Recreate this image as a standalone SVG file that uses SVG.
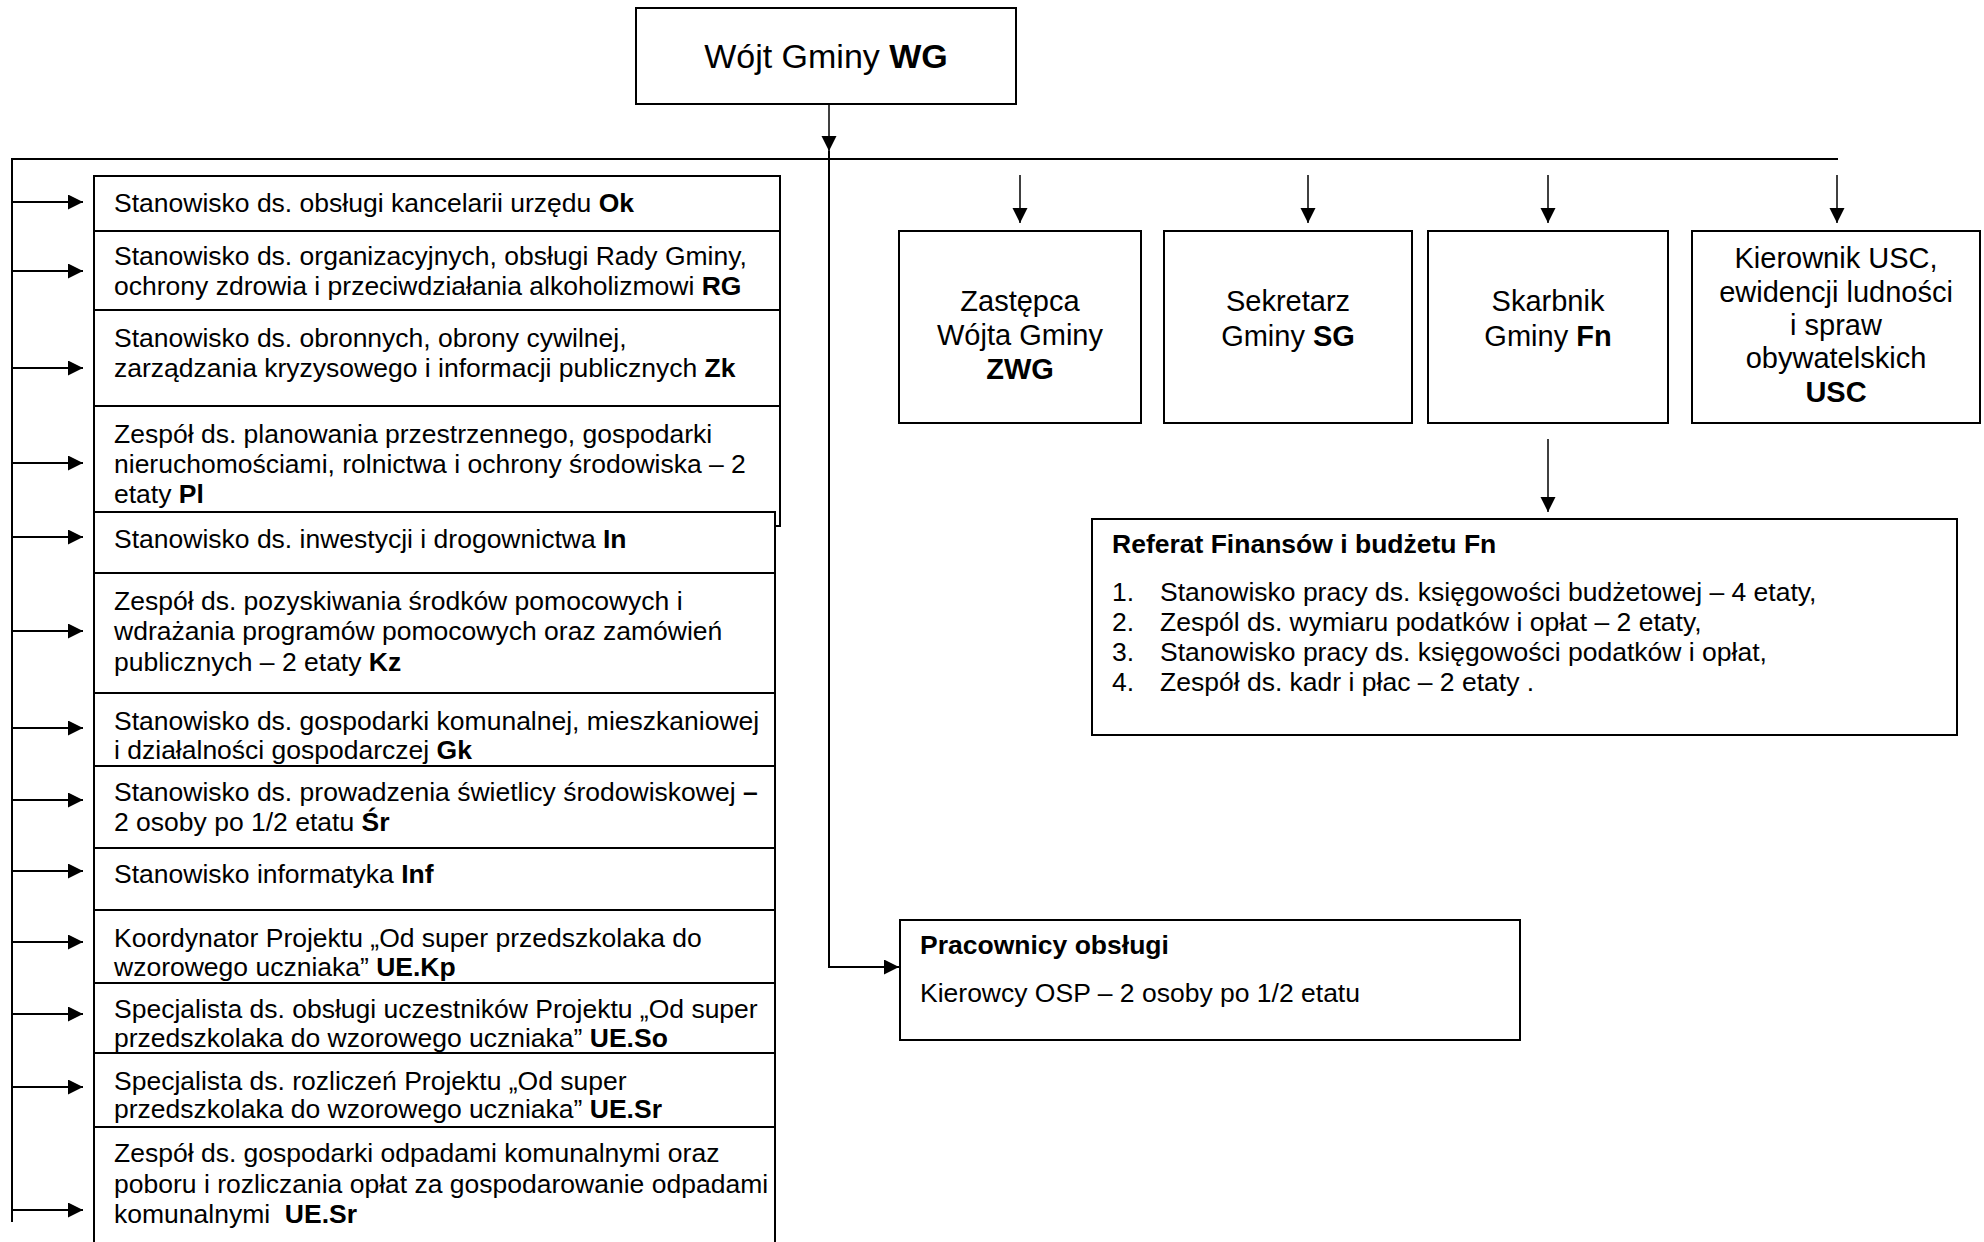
<svg xmlns="http://www.w3.org/2000/svg" width="1984" height="1242" viewBox="0 0 1984 1242">
<style>
text { font-family: "Liberation Sans", Arial, sans-serif; fill: #000; }
.t { font-size: 26.5px; }
.c { font-size: 29px; text-anchor: middle; }
.b { font-weight: bold; }
.box { fill: #fff; stroke: #000; stroke-width: 2; }
.ln { fill: none; stroke: #000; stroke-width: 2; }
.thin { fill: none; stroke: #000; stroke-width: 1.5; }
</style>
<defs>
<marker id="ah" markerUnits="userSpaceOnUse" markerWidth="16" markerHeight="16" refX="15" refY="7.5" orient="auto">
<path d="M0,0 L15,7.5 L0,15 z" fill="#000"/>
</marker>
</defs>
<rect width="1984" height="1242" fill="#fff"/>

<g id="connectors">
<line class="ln" x1="12" y1="158" x2="12" y2="1222"/>
<line class="ln" x1="11" y1="159" x2="1838" y2="159"/>
<line class="thin" x1="829" y1="104" x2="829" y2="151" marker-end="url(#ah)"/>
<path class="ln" d="M829,151 L829,967 L899,967" marker-end="url(#ah)"/>
<line class="ln" x1="12" y1="202" x2="83" y2="202" marker-end="url(#ah)"/>
<line class="ln" x1="12" y1="271" x2="83" y2="271" marker-end="url(#ah)"/>
<line class="ln" x1="12" y1="368" x2="83" y2="368" marker-end="url(#ah)"/>
<line class="ln" x1="12" y1="463" x2="83" y2="463" marker-end="url(#ah)"/>
<line class="ln" x1="12" y1="537" x2="83" y2="537" marker-end="url(#ah)"/>
<line class="ln" x1="12" y1="631" x2="83" y2="631" marker-end="url(#ah)"/>
<line class="ln" x1="12" y1="728" x2="83" y2="728" marker-end="url(#ah)"/>
<line class="ln" x1="12" y1="800" x2="83" y2="800" marker-end="url(#ah)"/>
<line class="ln" x1="12" y1="871" x2="83" y2="871" marker-end="url(#ah)"/>
<line class="ln" x1="12" y1="942" x2="83" y2="942" marker-end="url(#ah)"/>
<line class="ln" x1="12" y1="1014" x2="83" y2="1014" marker-end="url(#ah)"/>
<line class="ln" x1="12" y1="1087" x2="83" y2="1087" marker-end="url(#ah)"/>
<line class="ln" x1="12" y1="1210" x2="83" y2="1210" marker-end="url(#ah)"/>
<line class="thin" x1="1020" y1="175" x2="1020" y2="223" marker-end="url(#ah)"/>
<line class="thin" x1="1308" y1="175" x2="1308" y2="223" marker-end="url(#ah)"/>
<line class="thin" x1="1548" y1="175" x2="1548" y2="223" marker-end="url(#ah)"/>
<line class="thin" x1="1837" y1="175" x2="1837" y2="223" marker-end="url(#ah)"/>
<line class="thin" x1="1548" y1="439" x2="1548" y2="512" marker-end="url(#ah)"/>
</g>

<g id="wg">
<rect class="box" x="636" y="8" width="380" height="96"/>
<text x="826" y="68" font-size="34" text-anchor="middle">Wójt Gminy <tspan class="b">WG</tspan></text>
</g>

<g id="ok">
<rect class="box" x="94" y="176" width="686" height="55"/>
<text class="t" x="114" y="212">Stanowisko ds. obsługi kancelarii urzędu <tspan class="b">Ok</tspan></text>
</g>
<g id="rg">
<rect class="box" x="94" y="231" width="686" height="79"/>
<text class="t" x="114" y="265">Stanowisko ds. organizacyjnych, obsługi Rady Gminy,</text>
<text class="t" x="114" y="295">ochrony zdrowia i przeciwdziałania alkoholizmowi <tspan class="b">RG</tspan></text>
</g>
<g id="zk">
<rect class="box" x="94" y="310" width="686" height="96"/>
<text class="t" x="114" y="347">Stanowisko ds. obronnych, obrony cywilnej,</text>
<text class="t" x="114" y="377">zarządzania kryzysowego i informacji publicznych <tspan class="b">Zk</tspan></text>
</g>
<g id="pl">
<rect class="box" x="94" y="406" width="686" height="120"/>
<text class="t" x="114" y="443">Zespół ds. planowania przestrzennego, gospodarki</text>
<text class="t" x="114" y="473">nieruchomościami, rolnictwa i ochrony środowiska – 2</text>
<text class="t" x="114" y="503">etaty <tspan class="b">Pl</tspan></text>
</g>
<g id="in">
<rect class="box" x="94" y="512" width="681" height="61"/>
<text class="t" x="114" y="548">Stanowisko ds. inwestycji i drogownictwa <tspan class="b">In</tspan></text>
</g>
<g id="kz">
<rect class="box" x="94" y="573" width="681" height="120"/>
<text class="t" x="114" y="610">Zespół ds. pozyskiwania środków pomocowych i</text>
<text class="t" x="114" y="640">wdrażania programów pomocowych oraz zamówień</text>
<text class="t" x="114" y="671">publicznych – 2 etaty <tspan class="b">Kz</tspan></text>
</g>
<g id="gk">
<rect class="box" x="94" y="693" width="681" height="73"/>
<text class="t" x="114" y="730">Stanowisko ds. gospodarki komunalnej, mieszkaniowej</text>
<text class="t" x="114" y="759">i działalności gospodarczej <tspan class="b">Gk</tspan></text>
</g>
<g id="sr">
<rect class="box" x="94" y="766" width="681" height="82"/>
<text class="t" x="114" y="801">Stanowisko ds. prowadzenia świetlicy środowiskowej <tspan class="b">–</tspan></text>
<text class="t" x="114" y="831">2 osoby po 1/2 etatu <tspan class="b">Śr</tspan></text>
</g>
<g id="inf">
<rect class="box" x="94" y="848" width="681" height="62"/>
<text class="t" x="114" y="883">Stanowisko informatyka <tspan class="b">Inf</tspan></text>
</g>
<g id="uekp">
<rect class="box" x="94" y="910" width="681" height="73"/>
<text class="t" x="114" y="947">Koordynator Projektu „Od super przedszkolaka do</text>
<text class="t" x="114" y="976">wzorowego uczniaka” <tspan class="b">UE.Kp</tspan></text>
</g>
<g id="ueso">
<rect class="box" x="94" y="983" width="681" height="70"/>
<text class="t" x="114" y="1018">Specjalista ds. obsługi uczestników Projektu „Od super</text>
<text class="t" x="114" y="1047">przedszkolaka do wzorowego uczniaka” <tspan class="b">UE.So</tspan></text>
</g>
<g id="uesr">
<rect class="box" x="94" y="1053" width="681" height="74"/>
<text class="t" x="114" y="1090">Specjalista ds. rozliczeń Projektu „Od super</text>
<text class="t" x="114" y="1118">przedszkolaka do wzorowego uczniaka” <tspan class="b">UE.Sr</tspan></text>
</g>
<g id="odpady">
<rect class="box" x="94" y="1127" width="681" height="130"/>
<text class="t" x="114" y="1162">Zespół ds. gospodarki odpadami komunalnymi oraz</text>
<text class="t" x="114" y="1193">poboru i rozliczania opłat za gospodarowanie odpadami</text>
<text class="t" x="114" y="1223">komunalnymi&#160; <tspan class="b">UE.Sr</tspan></text>
</g>

<g id="zwg">
<rect class="box" x="899" y="231" width="242" height="192"/>
<text class="c" x="1020" y="311">Zastępca</text>
<text class="c" x="1020" y="345">Wójta Gminy</text>
<text class="c b" x="1020" y="379">ZWG</text>
</g>
<g id="sg">
<rect class="box" x="1164" y="231" width="248" height="192"/>
<text class="c" x="1288" y="311">Sekretarz</text>
<text class="c" x="1288" y="346">Gminy <tspan class="b">SG</tspan></text>
</g>
<g id="fn">
<rect class="box" x="1428" y="231" width="240" height="192"/>
<text class="c" x="1548" y="311">Skarbnik</text>
<text class="c" x="1548" y="346">Gminy <tspan class="b">Fn</tspan></text>
</g>
<g id="usc">
<rect class="box" x="1692" y="231" width="288" height="192"/>
<text class="c" x="1836" y="268">Kierownik USC,</text>
<text class="c" x="1836" y="302">ewidencji ludności</text>
<text class="c" x="1836" y="335">i spraw</text>
<text class="c" x="1836" y="368">obywatelskich</text>
<text class="c b" x="1836" y="402">USC</text>
</g>

<g id="referat">
<rect class="box" x="1092" y="519" width="865" height="216"/>
<text class="t b" x="1112" y="553">Referat Finansów i budżetu Fn</text>
<text class="t" x="1112" y="601">1.</text>
<text class="t" x="1160" y="601">Stanowisko pracy ds. księgowości budżetowej – 4 etaty,</text>
<text class="t" x="1112" y="631">2.</text>
<text class="t" x="1160" y="631">Zespól ds. wymiaru podatków i opłat – 2 etaty,</text>
<text class="t" x="1112" y="661">3.</text>
<text class="t" x="1160" y="661">Stanowisko pracy ds. księgowości podatków i opłat,</text>
<text class="t" x="1112" y="691">4.</text>
<text class="t" x="1160" y="691">Zespół ds. kadr i płac – 2 etaty .</text>
</g>

<g id="obsluga">
<rect class="box" x="900" y="920" width="620" height="120"/>
<text class="t b" x="920" y="954">Pracownicy obsługi</text>
<text class="t" x="920" y="1002">Kierowcy OSP – 2 osoby po 1/2 etatu</text>
</g>
</svg>
